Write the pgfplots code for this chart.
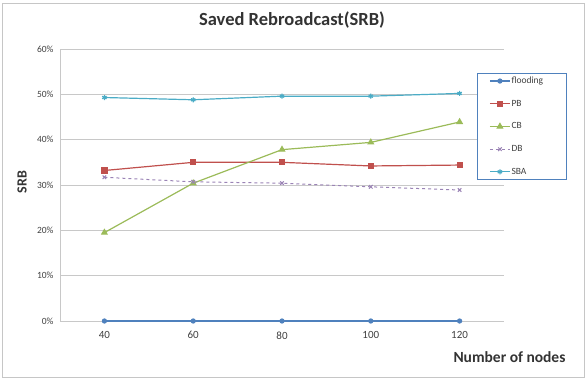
\documentclass[border=0pt]{standalone}
\usepackage{pgfplots}
\pgfplotsset{compat=1.18}
\usepackage{fontspec}
\setmainfont{Carlito}
\definecolor{cflood}{HTML}{4F81BD}
\definecolor{cpb}{HTML}{C0504D}
\definecolor{ccb}{HTML}{9BBB59}
\definecolor{cdb}{HTML}{8064A2}
\definecolor{csba}{HTML}{4BACC6}
\definecolor{gridc}{HTML}{C8C8C8}
\definecolor{tickc}{HTML}{404040}
\begin{document}
\begin{tikzpicture}
\path[use as bounding box] (0pt,0pt) rectangle (586pt,381pt);
\draw[gray!45, line width=0.8pt] (2pt,4pt) rectangle (584pt,378pt);
\begin{axis}[
  at={(60pt,60pt)}, anchor=south west,
  scale only axis, width=444pt, height=272pt,
  xmin=30, xmax=130, ymin=0, ymax=60,
  xtick={40,60,80,100,120},
  ytick={0,10,20,30,40,50,60},
  yticklabels={0\%,10\%,20\%,30\%,40\%,50\%,60\%},
  /pgf/number format/assume math mode=true,
  ymajorgrids, grid style={gridc, line width=0.6pt},
  axis x line*=bottom, axis y line*=left,
  axis line style={gridc, line width=0.8pt, -},
  tick style={draw=none},
  xticklabel style={font=\fontsize{11}{13}\selectfont, text=tickc, yshift=-7pt},
  yticklabel style={font=\fontsize{9.5}{11}\selectfont, text=tickc, xshift=-3pt},
  legend cell align=left,
  legend style={at={(0.939,0.5184)}, anchor=south west, draw=cflood, line width=0.8pt,
    font=\fontsize{9.5}{11}\selectfont, row sep=13pt, inner xsep=12pt, inner ysep=3pt,
    nodes={text=tickc, inner sep=1pt}},
  legend image code/.code={\draw[mark repeat=2,mark phase=2,#1] plot coordinates {(0pt,0pt) (10pt,0pt) (20pt,0pt)};},
  every axis plot/.append style={line width=1.2pt},
]
\addplot[cflood, mark=*, mark size=2pt] coordinates {(40,0) (60,0) (80,0) (100,0) (120,0)};
\addlegendentry{flooding\hspace*{10pt}}
\addplot[cpb, mark=square*, mark size=2.5pt] coordinates {(40,33.2) (60,35.0) (80,35.0) (100,34.2) (120,34.4)};
\addlegendentry{PB}
\addplot[ccb, mark=triangle*, mark size=3pt] coordinates {(40,19.5) (60,30.4) (80,37.8) (100,39.4) (120,43.9)};
\addlegendentry{CB}
\addplot[cdb!80, dashed, line width=1pt, mark=x, mark size=2.5pt, mark options={solid}] coordinates {(40,31.7) (60,30.7) (80,30.4) (100,29.6) (120,28.9)};
\addlegendentry{DB}
\addplot[csba, mark=asterisk, mark size=2.5pt, mark options={solid}] coordinates {(40,49.3) (60,48.8) (80,49.6) (100,49.6) (120,50.2)};
\addlegendentry{SBA}
\end{axis}
\node[font=\bfseries\fontsize{18.5}{21}\selectfont, text=black!80] at (292pt,361pt) {Saved Rebroadcast(SRB)};
\node[font=\bfseries\fontsize{15.5}{18}\selectfont, text=black!80, anchor=east] at (569pt,24pt) {Number of nodes};
\node[font=\bfseries\fontsize{14}{16}\selectfont, text=black!80, rotate=90] at (22pt,199pt) {SRB};
\end{tikzpicture}
\end{document}
